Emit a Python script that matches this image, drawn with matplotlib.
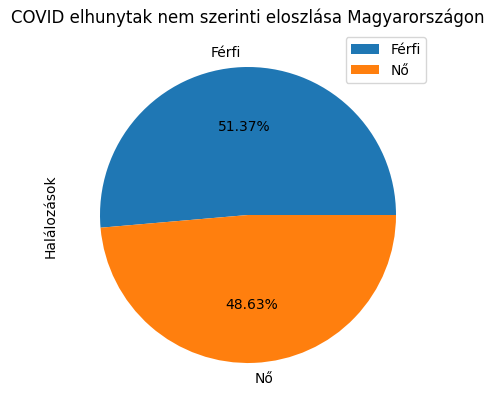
import matplotlib
matplotlib.use("Agg")
import matplotlib.pyplot as plt

labels = ["Férfi", "Nő"]
shares = [51.37, 48.63]
colors = ["#1f77b4", "#ff7f0e"]

fig = plt.figure(figsize=(4.96, 4.10), dpi=100)
ax = fig.add_axes([63 / 496, 9 / 410, 370 / 496, 370 / 410])
wedges, texts, autotexts = ax.pie(shares, labels=labels, colors=colors,
                                  autopct="%.2f%%", startangle=0)
ax.set_xlim(-1.25, 1.25)
ax.set_ylim(-1.25, 1.25)
ax.set_aspect("equal")
ax.set_xticks([])
ax.set_yticks([])
for s in ax.spines.values():
    s.set_visible(False)
ax.set_ylabel("Halálozások")
ax.set_title("COVID elhunytak nem szerinti eloszlása Magyarországon")
ax.legend(wedges, labels, loc="upper right")

fig.savefig("out.png", dpi=100)
